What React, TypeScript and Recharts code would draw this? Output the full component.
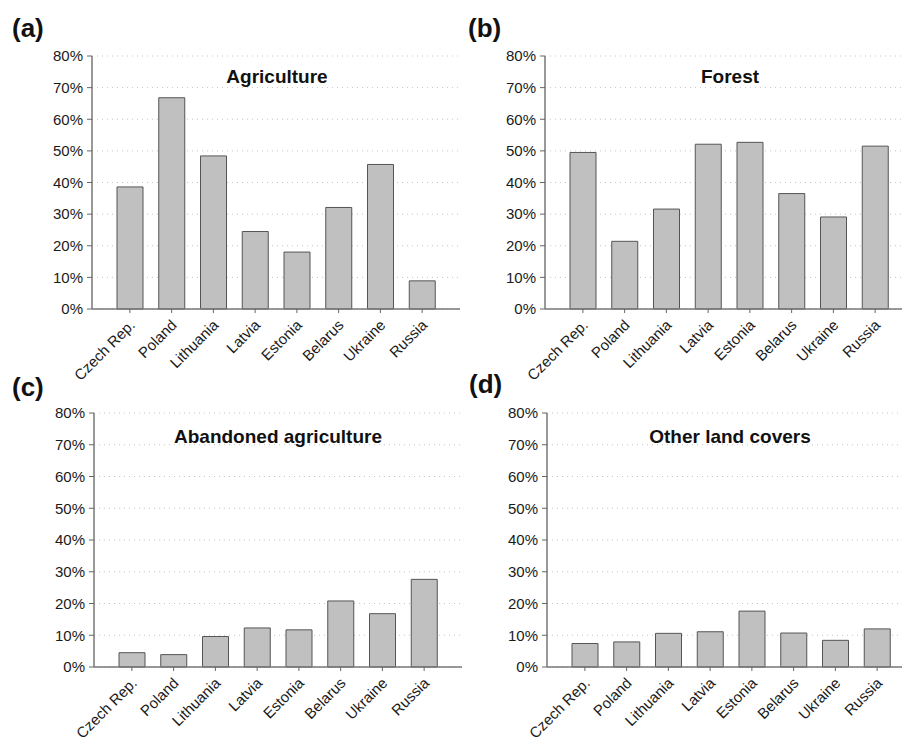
import React from 'react';
import { BarChart, Bar, XAxis, YAxis, CartesianGrid } from 'recharts';

const countries = ['Czech Rep.', 'Poland', 'Lithuania', 'Latvia', 'Estonia', 'Belarus', 'Ukraine', 'Russia'];

const agriculture = [38.6, 66.8, 48.4, 24.5, 18.0, 32.1, 45.7, 8.9];
const forest = [49.5, 21.4, 31.6, 52.1, 52.7, 36.5, 29.1, 51.5];
const abandoned = [4.5, 3.9, 9.6, 12.3, 11.7, 20.8, 16.8, 27.6];
const otherCovers = [7.4, 7.9, 10.6, 11.1, 17.6, 10.7, 8.4, 12.0];

const yTicks = [0, 10, 20, 30, 40, 50, 60, 70, 80];

const FONT = '"Liberation Sans", Arial, sans-serif';

const toRows = (values: number[]) => countries.map((name, i) => ({ name, value: values[i] }));

const CountryTick = (props: any) => {
  const { x, y, payload } = props;
  return (
    <g transform={`translate(${x + 6},${y + 11})`}>
      <text textAnchor="end" transform="rotate(-45)" fontSize={15} fontFamily={FONT} fill="#1a1a1a">
        {payload.value}
      </text>
    </g>
  );
};

type PanelProps = {
  left: number;
  top: number;
  yWidth: number;
  marginTop: number;
  plotHeight: number;
  xHeight: number;
  values: number[];
};

const Panel = ({ left, top, yWidth, marginTop, plotHeight, xHeight, values }: PanelProps) => {
  const plotWidth = 368;
  const width = yWidth + plotWidth + 1;
  const height = marginTop + plotHeight + xHeight;
  return (
    <div style={{ position: 'absolute', left, top }}>
      <BarChart
        width={width}
        height={height}
        data={toRows(values)}
        margin={{ top: marginTop, right: 1, left: 0, bottom: 0 }}
      >
        <CartesianGrid vertical={false} stroke="#c4c4c4" strokeDasharray="1 4" />
        <XAxis
          dataKey="name"
          interval={0}
          padding={{ left: 17, right: 17 }}
          height={xHeight}
          tick={<CountryTick />}
          tickSize={4}
          tickLine={{ stroke: '#666' }}
          axisLine={{ stroke: '#777', strokeWidth: 1.5 }}
        />
        <XAxis
          xAxisId="top"
          orientation="top"
          dataKey="name"
          height={0}
          tick={false}
          tickLine={false}
          axisLine={{ stroke: '#777', strokeWidth: 1.5 }}
        />
        <YAxis
          domain={[0, 80]}
          ticks={yTicks}
          width={yWidth}
          interval={0}
          tickFormatter={(v: number) => `${v}%`}
          tickSize={5}
          tickMargin={4}
          tick={{ fontSize: 15, fontFamily: FONT, fill: '#1a1a1a' }}
          tickLine={{ stroke: '#666' }}
          axisLine={{ stroke: '#777', strokeWidth: 1.5 }}
        />
        <YAxis
          yAxisId="right"
          orientation="right"
          domain={[0, 80]}
          width={0}
          tick={false}
          tickLine={false}
          axisLine={{ stroke: '#777', strokeWidth: 1.5 }}
        />
        <Bar dataKey="value" barSize={26} fill="#c0c0c0" stroke="#555" strokeWidth={1} isAnimationActive={false} />
      </BarChart>
    </div>
  );
};

const labels = [
  { text: '(a)', x: 12, y: 37 },
  { text: '(b)', x: 468, y: 37 },
  { text: '(c)', x: 12, y: 396 },
  { text: '(d)', x: 469, y: 393 },
];

const titles = [
  { text: 'Agriculture', x: 277, y: 83 },
  { text: 'Forest', x: 730, y: 83 },
  { text: 'Abandoned agriculture', x: 278, y: 443 },
  { text: 'Other land covers', x: 730, y: 443 },
];

export default function App() {
  return (
    <div
      style={{
        position: 'absolute',
        left: 0,
        top: 0,
        width: 902,
        height: 738,
        overflow: 'hidden',
        background: '#fff',
      }}
    >
      <Panel left={0} top={0} yWidth={92} marginTop={56} plotHeight={253} xHeight={90} values={agriculture} />
      <Panel left={453} top={0} yWidth={92} marginTop={56} plotHeight={253} xHeight={90} values={forest} />
      <Panel left={2} top={370} yWidth={92} marginTop={43} plotHeight={254} xHeight={90} values={abandoned} />
      <Panel left={455} top={370} yWidth={92} marginTop={43} plotHeight={254} xHeight={90} values={otherCovers} />
      <svg width={902} height={738} style={{ position: 'absolute', left: 0, top: 0, pointerEvents: 'none' }}>
        {labels.map((l) => (
          <text key={l.text} x={l.x} y={l.y} fontSize={26} fontWeight="bold" fontFamily={FONT} fill="#111">
            {l.text}
          </text>
        ))}
        {titles.map((t) => (
          <text key={t.text} x={t.x} y={t.y} textAnchor="middle" fontSize={19} fontWeight="bold" fontFamily={FONT} fill="#111">
            {t.text}
          </text>
        ))}
      </svg>
    </div>
  );
}
